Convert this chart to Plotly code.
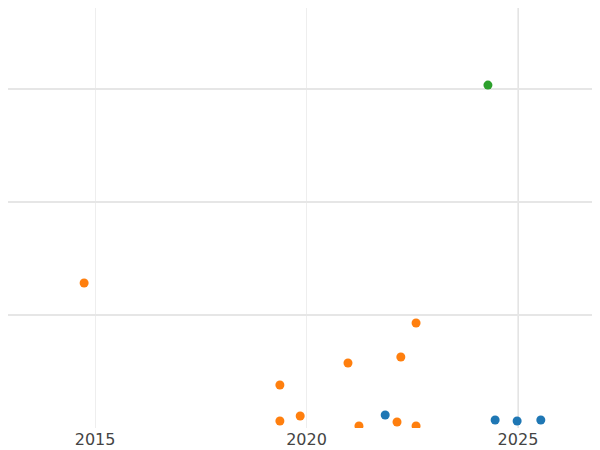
import plotly.graph_objects as go

green_x = [2024.29]
green_y = [3.035]
orange_x = [2014.74, 2022.59, 2020.98, 2022.23, 2019.37, 2019.37, 2019.85, 2021.24, 2022.14, 2022.59]
orange_y = [1.283, 0.929, 0.575, 0.628, 0.381, 0.062, 0.106, 0.018, 0.053, 0.018]
blue_x = [2021.86, 2024.46, 2024.98, 2025.54]
blue_y = [0.115, 0.071, 0.062, 0.071]
x_ticks = [2015, 2020, 2025]

fig = go.Figure()
for xs, ys, c in [(blue_x, blue_y, "#1f77b4"), (orange_x, orange_y, "#ff7f0e"), (green_x, green_y, "#2ca02c")]:
    fig.add_trace(go.Scatter(x=xs, y=ys, mode="markers", marker=dict(color=c, size=9), cliponaxis=True))

fig.add_vline(x=2025, line=dict(color="#e4e4e4", width=2), layer="below")
fig.update_layout(
    width=592, height=442, showlegend=False,
    margin=dict(l=0, r=0, t=0, b=22, autoexpand=False),
    plot_bgcolor="white", paper_bgcolor="white",
    font=dict(family="DejaVu Sans", size=16, color="#444"),
    xaxis=dict(range=[2012.94, 2026.94], tickvals=x_ticks, ticktext=[str(t) for t in x_ticks],
               showgrid=True, gridcolor="#eeeeee", zeroline=False, showline=False),
    yaxis=dict(range=[0, 3.717], tickvals=[1, 2, 3], showticklabels=False,
               showgrid=True, gridcolor="#e6e6e6", gridwidth=1.5, zeroline=False),
)
fig.write_html("out.html")
